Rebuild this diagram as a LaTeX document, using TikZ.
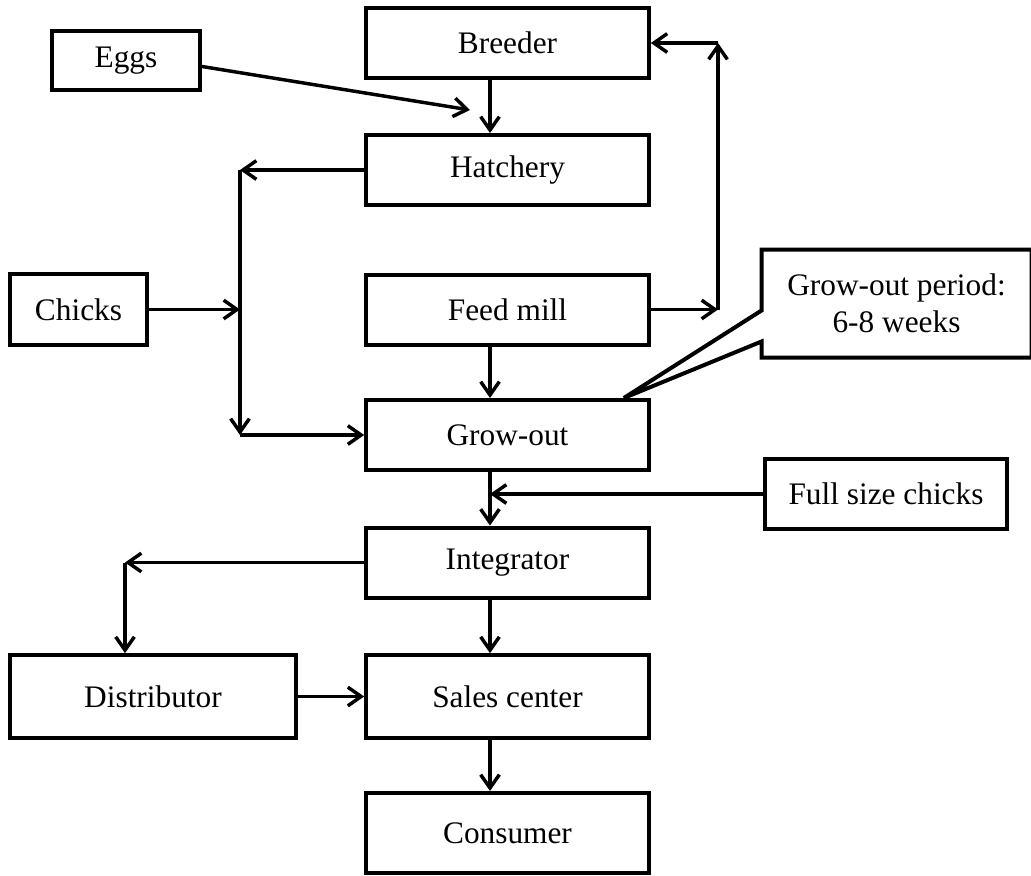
\documentclass[tikz,border=0pt]{standalone}
\usepackage{fontspec}
\setmainfont{Liberation Serif}
\usetikzlibrary{arrows.meta,calc}
\tikzset{
  stagebox/.style={draw,line width=3pt,minimum width=212pt,minimum height=52.5pt,inner sep=0pt,font=\fontsize{23.5}{28}\selectfont},
  flow/.style={line width=2.6pt,-{Straight Barb[length=10pt,width=14pt]}}
}
\begin{document}
\begin{tikzpicture}[x=0.75pt,y=-0.75pt]
\useasboundingbox (0,0) rectangle (1031,875);

%bus lines
\coordinate (spine) at (490,0);
\coordinate (lbus) at (240,0);
\coordinate (rbus) at (718,0);
\coordinate (dbus) at (125,0);
\coordinate (eggtip) at (470,110);

%main column
\node[stagebox] (brd) at (507.5,43) {Breeder};
\node[stagebox] (hat) at (507.5,170) {Hatchery};
\node[stagebox] (fed) at (507.5,309.5) {Feed mill};
\node[stagebox] (gro) at (507.5,435) {Grow-out};
\node[stagebox] (int) at (507.5,562.5) {Integrator};
\node[stagebox,minimum height=62pt] (sal) at (507.5,696.5) {Sales center};
\node[stagebox,minimum height=60pt] (con) at (507.5,833) {Consumer};
%side boxes
\node[stagebox,minimum width=111pt,minimum height=44pt] (egg) at (126,60.5) {Eggs};
\node[stagebox,minimum width=103pt,minimum height=53pt] (chk) at (78.5,309.5) {Chicks};
\node[stagebox,minimum width=215pt,minimum height=62pt] (dis) at (153,696.5) {Distributor};
\node[stagebox,minimum width=182pt,minimum height=52.5pt] (fsc) at (886,494) {Full size chicks};
%callout
\node[stagebox,draw=none,minimum width=199.5pt,minimum height=78pt,align=center] (per) at (896.5,303.5) {Grow-out period:\\6-8 weeks};
\coordinate (tip) at ($(gro.north east)+(-27,0)$);
\draw[line width=3pt] ($(per.north west)+(0,61)$) -- (per.north west) -- (per.north east) -- (per.south east) -- (per.south west) -- ($(per.south west)+(0,-16)$) -- (tip) -- cycle;

%breeder->hatchery
\draw[flow] (brd.south -| spine) -- (hat.north -| spine);
%eggs->hatchery
\draw[flow] ($(egg.east)+(0,6)$) -- (eggtip);
%hatchery->grow-out
\draw[flow] (hat.west) -- (hat.west -| lbus);
\draw[flow] (hat.west -| lbus) -- (gro.west -| lbus);
\draw[flow] (gro.west -| lbus) -- (gro.west);
%chicks->grow-out
\draw[flow] (chk.east) -- (chk.east -| lbus);
%feed mill->breeder
\draw[flow] (fed.east) -- (fed.east -| rbus);
\draw[flow] (fed.east -| rbus) -- (brd.east -| rbus);
\draw[flow] (brd.east -| rbus) -- (brd.east);
%feed mill->grow-out
\draw[flow] (fed.south -| spine) -- (gro.north -| spine);
%grow-out->integrator
\draw[flow] (gro.south -| spine) -- (int.north -| spine);
%full size chicks
\draw[flow] (fsc.west) -- (fsc.west -| spine);
%integrator->distributor
\draw[flow] (int.west) -- (int.west -| dbus);
\draw[flow] (int.west -| dbus) -- (dis.north -| dbus);
%integrator->sales center
\draw[flow] (int.south -| spine) -- (sal.north -| spine);
%distributor->sales center
\draw[flow] (dis.east) -- (sal.west);
%sales center->consumer
\draw[flow] (sal.south -| spine) -- (con.north -| spine);

\end{tikzpicture}
\end{document}
